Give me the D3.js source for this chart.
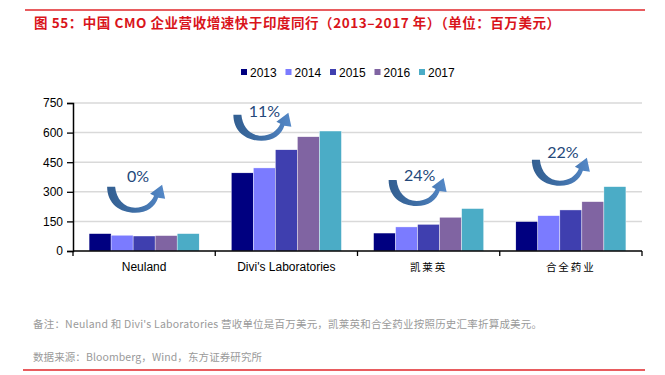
<!DOCTYPE html>
<html>
<head>
<meta charset="utf-8">
<script src="https://cdn.jsdelivr.net/npm/d3@7"></script>
<style>
  body { margin: 0; background: #fff; }
  svg { display: block; }
  .tick-label { font-family: "Liberation Sans", Arial, sans-serif; font-size: 12px; fill: #000; }
</style>
</head>
<body>
<div id="chart"></div>
<script>
const companies = ["Neuland", "Divi's Laboratories", "凯莱英", "合全药业"];
const years = ["2013", "2014", "2015", "2016", "2017"];
// revenue, million USD, one array per year (order follows companies)
const rev2013 = [88, 396, 91, 149];
const rev2014 = [80, 421, 122, 179];
const rev2015 = [76, 513, 135, 208];
const rev2016 = [78, 579, 171, 250];
const rev2017 = [88, 608, 215, 326];
const growthLabels = ["0%", "11%", "24%", "22%"];
const yTicks = [0, 150, 300, 450, 600, 750];

const seriesValues = [rev2013, rev2014, rev2015, rev2016, rev2017];
const colors = ["#000080", "#7b7bff", "#3f3faf", "#8064a2", "#4bacc6"];

// where the curved arrows sit: x offset from band centre, top level in data units, text offset
const arrowLayout = [
  { dx: -37, level: 325, textDy: -11 },
  { dx: -53, level: 690, textDy: -4 },
  { dx: -40, level: 360, textDy: -5 },
  { dx: -39, level: 462, textDy: -8 }
];

const width = 665, height = 375;
const svg = d3.select("#chart").append("svg")
    .attr("width", width)
    .attr("height", height);

// top / bottom red rules and title
svg.append("line")
    .attr("x1", 25).attr("x2", 645).attr("y1", 10).attr("y2", 10)
    .attr("stroke", "#e0262a").attr("stroke-width", 1.3);
svg.append("line")
    .attr("x1", 23).attr("x2", 645).attr("y1", 370).attr("y2", 370)
    .attr("stroke", "#e0262a").attr("stroke-width", 1.5);

svg.append("text")
    .attr("x", 34).attr("y", 28)
    .attr("fill", "#d9141b")
    .attr("font-family", "'Noto Sans CJK SC', sans-serif")
    .attr("font-weight", "bold")
    .attr("font-size", 13.5)
    .attr("textLength", 526)
    .attr("lengthAdjust", "spacing")
    .text("图 55：中国 CMO 企业营收增速快于印度同行（2013–2017 年）（单位：百万美元）");

const x = d3.scaleBand()
    .domain(companies)
    .range([73, 642]);

const bw = x.bandwidth();
const xInner = d3.scaleBand()
    .domain(years)
    .range([bw * 0.113, bw * 0.887]);

const y = d3.scaleLinear()
    .domain([0, 750])
    .range([251, 103]);

// gridlines
svg.append("g")
    .selectAll("line")
    .data(yTicks.filter(d => d > 0))
    .join("line")
        .attr("x1", 73).attr("x2", 642)
        .attr("y1", d => y(d)).attr("y2", d => y(d))
        .attr("stroke", "#d9d9d9")
        .attr("stroke-width", 1.5);

// bars
const table = companies.map((c, i) => years.map((yr, j) => ({ company: c, year: yr, value: seriesValues[j][i], j })));

svg.append("g")
    .selectAll("g")
    .data(table)
    .join("g")
        .attr("transform", (d, i) => `translate(${x(companies[i])},0)`)
    .selectAll("rect")
    .data(d => d)
    .join("rect")
        .attr("x", d => xInner(d.year))
        .attr("width", xInner.bandwidth())
        .attr("y", d => y(d.value))
        .attr("height", d => y(0) - y(d.value))
        .attr("fill", d => colors[d.j])
        .attr("stroke", "#fff")
        .attr("stroke-width", 0.4);

// y axis
const yAxis = svg.append("g")
    .attr("transform", "translate(73,0)")
    .call(d3.axisLeft(y).tickValues(yTicks).tickSize(6).tickPadding(4));
yAxis.select(".domain").attr("stroke", "#000").attr("stroke-width", 1.5);
yAxis.selectAll(".tick line").attr("stroke", "#000").attr("stroke-width", 1.3);
yAxis.selectAll(".tick text").attr("class", "tick-label").attr("font-size", null).attr("font-family", null);

// x axis
const xAxis = svg.append("g")
    .attr("transform", `translate(0,${y(0)})`);
xAxis.append("line")
    .attr("x1", 73).attr("x2", 642)
    .attr("stroke", "#000").attr("stroke-width", 1.5);
xAxis.selectAll(".xtick")
    .data(companies.map(c => x(c)).concat([x(companies[companies.length - 1]) + bw]))
    .join("line")
        .attr("class", "xtick")
        .attr("x1", d => d).attr("x2", d => d)
        .attr("y1", 0).attr("y2", 5)
        .attr("stroke", "#000").attr("stroke-width", 1.3);
xAxis.selectAll(".xlabel")
    .data(companies)
    .join("text")
        .attr("class", "xlabel")
        .attr("x", d => x(d) + bw / 2)
        .attr("y", 20)
        .attr("text-anchor", "middle")
        .attr("font-family", (d, i) => i < 2 ? "'Liberation Sans', Arial, sans-serif" : "'Noto Sans CJK SC', sans-serif")
        .attr("font-size", (d, i) => i < 2 ? 12 : 10.5)
        .attr("letter-spacing", (d, i) => i < 2 ? 0 : 2)
        .attr("fill", "#000")
        .text(d => d);

// legend
const legend = svg.append("g")
    .selectAll("g")
    .data(years)
    .join("g")
        .attr("transform", (d, i) => `translate(${241 + i * 44.5},72)`);
legend.append("rect")
    .attr("x", 0).attr("y", -3)
    .attr("width", 6).attr("height", 6)
    .attr("fill", (d, i) => colors[i]);
legend.append("text")
    .attr("x", 9).attr("y", 4.5)
    .attr("class", "tick-label")
    .text(d => d);

// gradient for the curved arrows
const defs = svg.append("defs");
const grad = defs.append("linearGradient")
    .attr("id", "arrowGrad")
    .attr("x1", "0%").attr("x2", "100%").attr("y1", "0%").attr("y2", "0%");
grad.append("stop").attr("offset", "0%").attr("stop-color", "#335f91");
grad.append("stop").attr("offset", "50%").attr("stop-color", "#3e6ea6");
grad.append("stop").attr("offset", "100%").attr("stop-color", "#5589c8");

const arrowPath = "M0,0 C0,17 13,26 28,26 C40,26 48,20 51,11 L58,12 L55,-2 L43,7 L47,9 C44,16 37,21 28,21 C17,21 9,12 8,0 Z";

const notes = svg.append("g")
    .selectAll("g")
    .data(growthLabels)
    .join("g")
        .attr("transform", (d, i) => `translate(${x(companies[i]) + bw / 2 + arrowLayout[i].dx},${y(arrowLayout[i].level)})`);
notes.append("path")
    .attr("d", arrowPath)
    .attr("fill", "url(#arrowGrad)");
notes.append("text")
    .attr("x", 31)
    .attr("y", (d, i) => arrowLayout[i].textDy + 6)
    .attr("text-anchor", "middle")
    .attr("font-family", "Lato, 'Open Sans', sans-serif")
    .attr("font-size", 16)
    .attr("fill", "#24487a")
    .text(d => d);

// footnotes
svg.append("text")
    .attr("x", 33).attr("y", 328)
    .attr("fill", "#9a9a9a")
    .attr("font-family", "'Noto Sans CJK SC', sans-serif")
    .attr("font-size", 10.5)
    .attr("textLength", 509)
    .attr("lengthAdjust", "spacing")
    .text("备注：Neuland 和 Divi's Laboratories 营收单位是百万美元，凯莱英和合全药业按照历史汇率折算成美元。");
svg.append("text")
    .attr("x", 33).attr("y", 361)
    .attr("fill", "#9a9a9a")
    .attr("font-family", "'Noto Sans CJK SC', sans-serif")
    .attr("font-size", 10.5)
    .attr("textLength", 229)
    .attr("lengthAdjust", "spacing")
    .text("数据来源：Bloomberg，Wind，东方证券研究所");
</script>
</body>
</html>
